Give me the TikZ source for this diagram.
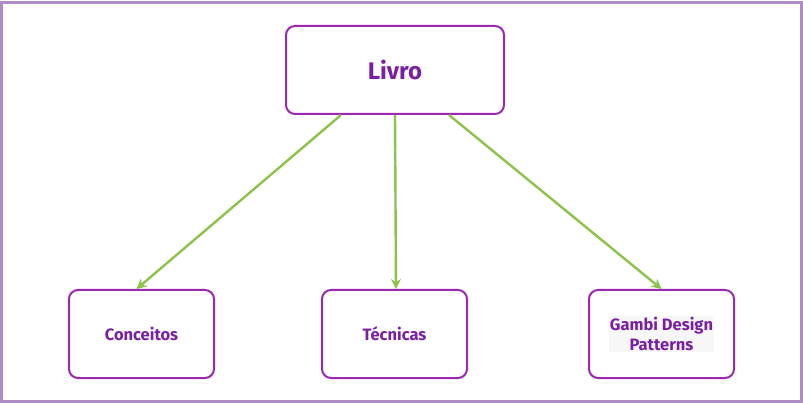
\documentclass[tikz,border=0pt]{standalone}
\usepackage{fontspec}
\setmainfont{Fira Sans}
\usetikzlibrary{arrows.meta}
\definecolor{boxline}{HTML}{9C27B0}
\definecolor{boxtext}{HTML}{7B1FA2}
\definecolor{arrowgreen}{HTML}{8BC34A}
\definecolor{frameline}{HTML}{AE8CC4}
\tikzset{
  card/.style={draw=boxline, line width=2pt, rounded corners=9pt, fill=white,
    text=boxtext, font=\bfseries\fontsize{16.5}{20}\selectfont, align=center},
  link/.style={draw=arrowgreen, line width=2.4pt, -{Stealth[length=10pt,width=10pt]}}
}
\begin{document}
\begin{tikzpicture}[x=1pt,y=-1pt]
\useasboundingbox (0,0) rectangle (803,403);
\draw[frameline, line width=3pt] (1.5,3) rectangle (801.5,401.5);
\node[card, minimum width=218pt, minimum height=88pt, font=\bfseries\fontsize{24}{28}\selectfont] (livro) at (395,70) {Livro};
\node[card, minimum width=145pt, minimum height=88pt] (conc) at (141.5,334) {Conceitos};
\node[card, minimum width=145pt, minimum height=88pt] (tec) at (394.5,334) {Técnicas};
\node[card, minimum width=145pt, minimum height=88pt] (gambi) at (661.5,334) {};
\node[fill=gray!6, text=boxtext, font=\bfseries\fontsize{16.5}{20}\selectfont, align=center, inner sep=1pt] (gambitext) at (gambi.center) {Gambi Design\\Patterns};
\coordinate (l1) at ([xshift=-54pt]livro.south);
\coordinate (l3) at ([xshift=54pt]livro.south);
\draw[link] (l1) -- ([xshift=-5pt]conc.north);
\draw[link] (livro.south) -- ([xshift=1.5pt]tec.north);
\draw[link] (l3) -- (gambi.north);
\end{tikzpicture}
\end{document}
